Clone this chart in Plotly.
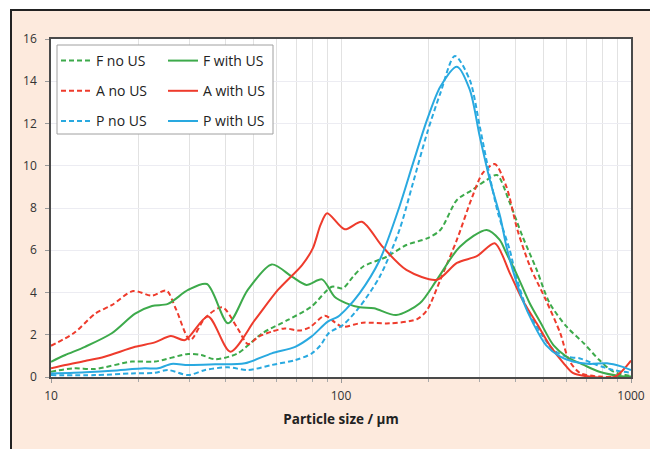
import plotly.graph_objects as go

# ---------------- data ----------------
f_no_x = [10, 12, 14.2, 19, 22.8, 29.7, 33, 36.8, 44, 53.5, 65.6, 79, 93, 101.5, 110, 119, 144, 168, 198, 220, 251, 283, 318, 345, 382, 423, 473, 524, 600, 687, 778, 870, 1000]
f_no_y = [0.25, 0.41, 0.38, 0.73, 0.73, 1.09, 1.04, 0.84, 1.12, 2.07, 2.7, 3.33, 4.27, 4.2, 4.75, 5.22, 5.7, 6.25, 6.56, 6.96, 8.38, 8.85, 9.33, 9.56, 8.24, 6.64, 5.07, 3.5, 2.38, 1.6, 0.8, 0.25, 0.05]

f_us_x = [10, 11.2, 13.1, 16.2, 19.5, 22.3, 25.3, 29.7, 34.5, 40.8, 47.7, 57.7, 67.7, 76, 86, 95, 104, 116, 130, 155, 187, 214, 257, 318, 352, 372, 402, 447, 489, 540, 600, 687, 778, 915, 1000]
f_us_y = [0.72, 1.04, 1.43, 2.07, 3.0, 3.36, 3.46, 4.12, 4.4, 2.54, 4.12, 5.33, 4.75, 4.36, 4.62, 3.8, 3.5, 3.3, 3.25, 2.93, 3.49, 4.6, 6.17, 6.96, 6.5, 5.85, 4.92, 3.5, 2.54, 1.51, 0.96, 0.57, 0.25, 0.05, 0.02]

a_no_x = [10, 12, 14.2, 16.2, 19.2, 22.3, 25, 27, 30.2, 34, 39, 44, 47.8, 52, 57.7, 64, 72, 78, 88, 95, 101, 119, 147, 183, 198, 220, 251, 283, 308, 339, 372, 406, 449, 509, 570, 611, 667, 780, 1000]
a_no_y = [1.48, 2.08, 3.0, 3.4, 4.07, 3.85, 4.09, 3.2, 1.75, 2.8, 3.3, 2.3, 1.56, 1.91, 2.15, 2.3, 2.2, 2.35, 2.9, 2.6, 2.38, 2.57, 2.54, 2.74, 3.17, 4.6, 6.5, 8.5, 9.65, 10.08, 9.0, 6.96, 5.22, 3.64, 2.08, 0.8, 0.19, 0.02, 0.0]

a_us_x = [10, 11.2, 13.1, 15.3, 19.5, 22.8, 25.9, 29, 34.8, 41.5, 50.5, 60.6, 73.4, 80, 85, 89.6, 103, 118, 139, 168, 214, 251, 295, 339, 382, 423, 473, 524, 585, 630, 720, 880, 1000]
a_us_y = [0.41, 0.57, 0.76, 0.96, 1.43, 1.64, 1.94, 1.75, 2.86, 1.2, 2.7, 4.12, 5.3, 6.1, 7.2, 7.75, 6.99, 7.35, 6.17, 5.07, 4.6, 5.4, 5.73, 6.33, 4.92, 3.64, 2.54, 1.51, 0.66, 0.19, 0.02, 0.02, 0.78]

p_no_x = [10, 14.2, 19, 22.8, 25.3, 29.7, 34, 40.8, 47.7, 57.7, 69.5, 79, 85, 91, 101.5, 116, 136, 159, 177, 198, 220, 247, 278, 301, 326, 348, 382, 402, 435, 489, 540, 600, 667, 762, 870, 1000]
p_no_y = [0.09, 0.09, 0.17, 0.2, 0.33, 0.09, 0.33, 0.46, 0.33, 0.57, 0.8, 1.1, 1.5, 2.1, 2.46, 3.33, 4.75, 6.96, 9.17, 11.54, 13.43, 15.2, 14.06, 11.85, 9.48, 7.75, 6.0, 4.75, 3.33, 2.07, 1.28, 0.96, 0.88, 0.57, 0.33, 0.2]

p_us_x = [10, 12, 16.2, 21, 23.4, 26, 29.7, 36.8, 46.6, 57.7, 69.5, 79, 90, 97.7, 104, 116, 136, 159, 177, 198, 220, 251, 278, 301, 326, 354, 372, 391, 423, 460, 509, 570, 630, 720, 826, 930, 1000]
p_us_y = [0.17, 0.2, 0.3, 0.41, 0.41, 0.62, 0.57, 0.6, 0.65, 1.12, 1.43, 1.91, 2.62, 2.86, 3.2, 3.97, 5.54, 8.06, 10.1, 12.17, 13.74, 14.69, 13.6, 11.38, 9.33, 7.59, 6.17, 5.07, 3.64, 2.54, 1.51, 0.96, 0.73, 0.62, 0.65, 0.49, 0.33]

names = ["F no US", "A no US", "P no US", "F with US", "A with US", "P with US"]
x_ticks = [10, 100, 1000]
x_minor = [20, 30, 40, 50, 60, 70, 80, 90, 200, 300, 400, 500, 600, 700, 800, 900]
y_ticks = [0, 2, 4, 6, 8, 10, 12, 14, 16]

GREEN = "#3DAA4B"
RED = "#EE3B2C"
BLUE = "#29A9E0"
PEACH = "#FDEADD"
FONT = "Open Sans"

series = [
    (f_no_x, f_no_y, names[0], GREEN, "5px,3px", "legend"),
    (a_no_x, a_no_y, names[1], RED, "5px,3px", "legend"),
    (p_no_x, p_no_y, names[2], BLUE, "5px,3px", "legend"),
    (f_us_x, f_us_y, names[3], GREEN, "solid", "legend2"),
    (a_us_x, a_us_y, names[4], RED, "solid", "legend2"),
    (p_us_x, p_us_y, names[5], BLUE, "solid", "legend2"),
]

fig = go.Figure()
for xs, ys, nm, col, dash, lg in series:
    fig.add_trace(go.Scatter(
        x=xs, y=ys, name=nm, mode="lines",
        line=dict(color=col, width=2, dash=dash, shape="spline", smoothing=0.8),
        legend=lg, legendgroup=nm,
    ))

# plot area in page pixels: left 51, top 39, width 580, height 338 (page has an 8px body margin)
PL, PT, PW, PH = 43, 31, 580, 338
W, H = 658, 449

def px(xp):
    return (xp - 51) / PW

def py(yp):
    return (377 - yp) / PH

fig.update_layout(
    width=W, height=H, autosize=False,
    margin=dict(l=PL, r=W - PL - PW, t=PT, b=H - PT - PH),
    paper_bgcolor="white", plot_bgcolor="white",
    font=dict(family=FONT, size=12, color="#333333"),
    legend=dict(x=px(56), y=py(45), xanchor="left", yanchor="top",
                bgcolor="rgba(0,0,0,0)", borderwidth=0, tracegroupgap=9,
                font=dict(family=FONT, size=14, color="#222222")),
    legend2=dict(x=px(163), y=py(45), xanchor="left", yanchor="top",
                 bgcolor="rgba(0,0,0,0)", borderwidth=0, tracegroupgap=9,
                 font=dict(family=FONT, size=14, color="#222222")),
    xaxis=dict(
        type="log", range=[1, 3], tickmode="array", tickvals=x_ticks,
        ticktext=[str(v) for v in x_ticks],
        showgrid=True, gridcolor="#e2e2e2", gridwidth=1,
        showline=True, linecolor="#4a4a4a", linewidth=1.5, mirror=True,
        ticks="outside", ticklen=4, tickcolor="#999999",
        ticklabelstandoff=3,
        minor=dict(tickmode="array", tickvals=x_minor, showgrid=True,
                   gridcolor="#e2e2e2", gridwidth=1, ticks="outside", ticklen=3,
                   tickcolor="#aaaaaa"),
        tickfont=dict(size=12, color="#333333"),
        title=dict(text="<b>Particle size / µm</b>", standoff=11,
                   font=dict(family=FONT, size=13.5, color="#222222")),
        zeroline=False, automargin=False,
    ),
    yaxis=dict(
        range=[0, 16], tickmode="array", tickvals=y_ticks,
        showgrid=True, gridcolor="#ececf2", gridwidth=1,
        showline=True, linecolor="#4a4a4a", linewidth=1.5, mirror=True,
        ticks="outside", ticklen=4, tickcolor="#999999",
        ticklabelstandoff=6,
        tickfont=dict(size=12, color="#333333"),
        zeroline=False, automargin=False,
    ),
    shapes=[
        # outer peach frame
        dict(type="rect", xref="paper", yref="paper",
             x0=px(11), x1=1.3, y0=-0.4, y1=py(10),
             fillcolor=PEACH, line=dict(color="#222222", width=2), layer="below"),
        # white plotting area
        dict(type="rect", xref="paper", yref="paper", x0=0, x1=1, y0=0, y1=1,
             fillcolor="white", line=dict(width=0), layer="below"),
        # legend box
        dict(type="rect", xref="paper", yref="paper",
             x0=px(57), x1=px(273), y0=py(134), y1=py(45),
             fillcolor="white", line=dict(color="#a0a0a0", width=1), layer="above"),
    ],
)

fig.write_html("out.html")
